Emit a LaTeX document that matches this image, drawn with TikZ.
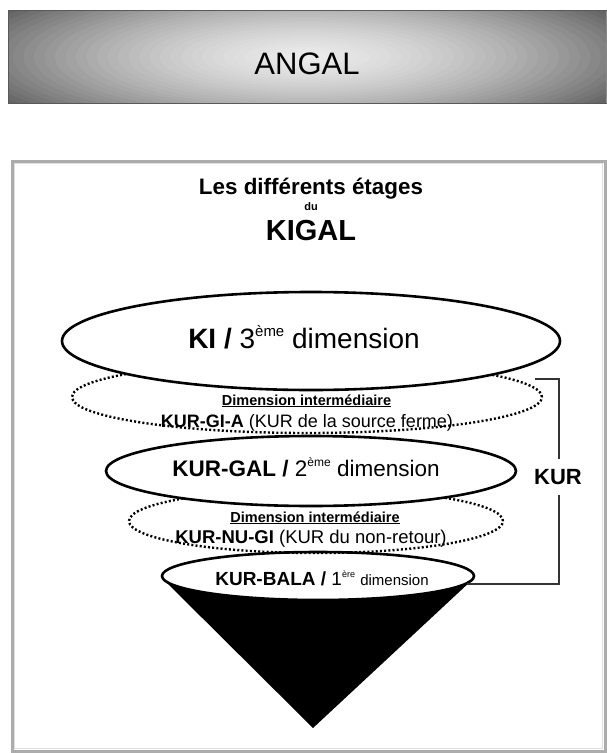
\documentclass[tikz,border=0pt]{standalone}
\usepackage{fontspec}
\setmainfont{Liberation Sans}
\usetikzlibrary{shapes.geometric}
\newcommand{\myfs}[1]{\fontsize{#1}{#1}\selectfont}
\newcommand{\mysup}[2]{\raisebox{0.42em}{\myfs{#1}#2}}
\begin{document}
\begin{tikzpicture}[x=1pt,y=-1pt,
  solidell/.style={ellipse, draw=black, line width=2.6pt, fill=white, inner sep=0pt},
  dotell/.style={ellipse, draw=black, line width=2.4pt, dash pattern=on 2pt off 2.2pt, inner sep=0pt},
  lbl/.style={anchor=base, inner sep=0pt}]
\useasboundingbox (0,0) rectangle (606,753);
% banner
\begin{scope}
\clip (8,10) rectangle (606,103);
\fill[black!70] (8,10) rectangle (606,103);
\foreach \i in {0,...,39}{
  \pgfmathsetmacro\tt{1-\i/40}
  \pgfmathsetmacro\g{0.93-0.25*\tt-0.45*\tt*\tt}
  \definecolor{ringc}{gray}{\g}
  \fill[ringc] (307,57) ellipse [x radius={420*\tt*1pt}, y radius={100*\tt*1pt}];
}
\end{scope}
\draw[line width=1pt, black!65] (8,10) rectangle (607,103);
\node[font=\myfs{31}, inner sep=0pt, anchor=base] (angal) at (307,74) {ANGAL};
% frame
\draw[line width=3pt, gray!65] (12,161) rectangle (605,751.5);
\draw[line width=0.8pt, gray!25] (14.8,163.8) rectangle (602,748.5);
% title
\node[lbl, font=\bfseries\myfs{22.4}] (t1) at (311,194) {Les différents étages};
\node[lbl, font=\bfseries\myfs{11}] (t2) at (311,210) {du};
\node[lbl, font=\bfseries\myfs{29}] (t3) at (311,240) {KIGAL};
% cone
\coordinate (apex) at (313,728);
\coordinate (cl) at (164,580);
\coordinate (cr) at (472,580);
\fill[black] (cl) -- (cr) -- (apex) -- cycle;
% stages
\node[solidell, minimum width=312pt, minimum height=48pt] (bala) at (318,576) {};
\node[dotell, minimum width=374pt, minimum height=64pt] (nugi) at (316,521) {};
\node[solidell, minimum width=410pt, minimum height=70pt] (gal) at (311,471) {};
\node[dotell, minimum width=470pt, minimum height=72pt] (gia) at (307,397) {};
\node[solidell, minimum width=498pt, minimum height=98pt] (ki) at (311,341) {};
% texts
\node[lbl, font=\myfs{28}] (kitxt) at (304,348) {\textbf{KI /} 3\mysup{15}{ème} dimension};
\node[lbl, font=\bfseries\myfs{14.5}] (di1) at (306.5,405) {\underline{Dimension intermédiaire}};
\node[lbl, font=\myfs{18}] (giatxt) at (307,427) {\textbf{KUR-GI-A} (KUR de la source ferme)};
\node[lbl, font=\myfs{22.5}] (galtxt) at (306,476) {\textbf{KUR-GAL /} 2\mysup{12}{ème} dimension};
\node[lbl, font=\bfseries\myfs{14.5}] (di2) at (315,522) {\underline{Dimension intermédiaire}};
\node[lbl, font=\myfs{18.5}] (nugitxt) at (311,543) {\textbf{KUR-NU-GI} (KUR du non-retour)};
\node[lbl, font=\myfs{19}] (balatxt) at (322,585) {\textbf{KUR-BALA /} 1\mysup{9}{ère} {\myfs{15}dimension}};
% KUR bracket
\node[font=\bfseries\myfs{22}, inner sep=0pt, minimum height=35pt] (kur) at (558,477) {KUR};
\coordinate (b1) at (535,379);
\coordinate (b2) at (559,379);
\coordinate (b3) at (559,584);
\coordinate (b4) at (467,584);
\draw[line width=1.4pt, black!80] (b1) -- (b2) -- (b2 |- kur.north);
\draw[line width=1.4pt, black!80] (b3 |- kur.south) -- (b3) -- (b4);
\end{tikzpicture}
\end{document}
